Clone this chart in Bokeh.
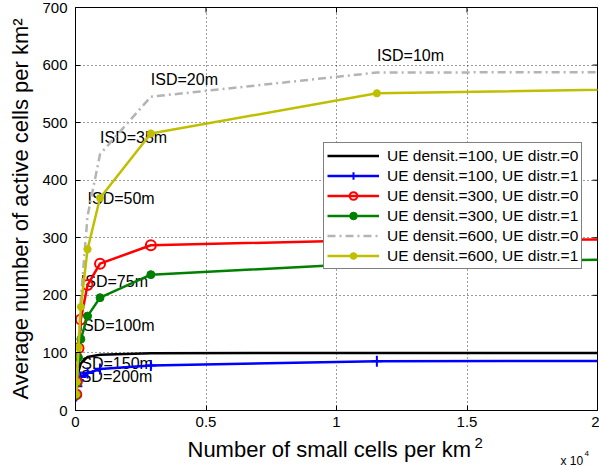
import math

from bokeh.plotting import figure
from bokeh.layouts import column
from bokeh.models import FixedTicker, Range1d
from bokeh.embed import file_html
from bokeh.resources import INLINE
from bokeh.core.properties import value

# Small-cell densities (cells per km^2) for each inter-site distance
density = [29, 51, 115, 205, 462, 940, 2887, 11547, 46188]
isd_labels = ["ISD=200m", "ISD=150m", "ISD=100m", "ISD=75m", "ISD=50m",
              "ISD=35m", "ISD=20m", "ISD=10m"]

# Average number of active cells per km^2
ue100_d0 = [27, 43, 68, 82, 93, 97, 99.5, 100, 100]
ue100_d1 = [25, 42, 52, 58, 65, 72, 78, 85.5, 88]
ue300_d0 = [28, 50, 108, 158, 218, 255, 287, 296, 299.5]
ue300_d1 = [27, 48, 92, 124, 164, 196, 236, 256, 280]
ue600_d0 = [29, 52, 117, 194, 338, 445, 545, 587, 590]
ue600_d1 = [28, 50, 110, 180, 280, 369, 481, 551, 576]

x_ticks = [0, 5000, 10000, 15000, 20000]
x_tick_labels = ["0", "0.5", "1", "1.5", "2"]
y_ticks = [0, 100, 200, 300, 400, 500, 600, 700]

X_MAX, Y_MAX = 20000, 700
FONT = "Liberation Sans"
W = 599
MAIN_H, FOOT_H = 434, 33
LEFT, RIGHT = 75, 2

p = figure(width=W, height=MAIN_H, output_backend="svg", toolbar_location=None,
           x_range=Range1d(0, X_MAX), y_range=Range1d(0, Y_MAX),
           min_border_left=LEFT, min_border_right=RIGHT, min_border_top=7,
           min_border_bottom=24)
p.background_fill_color = "white"
p.border_fill_color = "white"
p.outline_line_color = "black"
p.outline_line_width = 1

# dotted grid
p.xgrid.ticker = FixedTicker(ticks=x_ticks)
p.ygrid.ticker = FixedTicker(ticks=y_ticks)
for g in (p.xgrid[0], p.ygrid[0]):
    g.grid_line_color = "#3a3a3a"
    g.grid_line_dash = "1 3"
    g.grid_line_width = 1

p.xaxis.ticker = FixedTicker(ticks=x_ticks)
p.xaxis.major_label_overrides = dict(zip(x_ticks, x_tick_labels))
p.yaxis.ticker = FixedTicker(ticks=y_ticks)

for ax in (p.xaxis[0], p.yaxis[0]):
    ax.major_tick_in = 5
    ax.major_tick_out = 0
    ax.minor_tick_in = 0
    ax.minor_tick_out = 0
    ax.axis_line_color = "black"
    ax.major_tick_line_color = "black"
    ax.major_label_text_font = FONT
    ax.major_label_text_font_size = "15px"
    ax.major_label_text_color = "black"
    ax.axis_label_text_font = FONT
    ax.axis_label_text_font_size = "22px"
    ax.axis_label_text_font_style = "normal"
    ax.axis_label_text_color = "black"

p.yaxis.axis_label = "Average number of active cells per km\u00b2"
p.xaxis.major_label_standoff = 6
p.yaxis.major_label_standoff = 8
p.yaxis.axis_label_standoff = 6

# inward tick marks along the top and right edges of the box
p.scatter(x_ticks, [Y_MAX] * len(x_ticks), marker="dash", size=10,
          angle=math.pi / 2, line_color="black", line_width=1)
p.scatter([X_MAX] * len(y_ticks), y_ticks, marker="dash", size=10,
          line_color="black", line_width=1)

# ISD annotations sit just above the UE density 600 (uniform) curve
n_lab = len(isd_labels)
p.text(x=density[:n_lab], y=[v + 30 for v in ue600_d0[:n_lab]], text=isd_labels,
       text_font=value(FONT), text_font_size="16px", text_align="left",
       text_baseline="middle", text_color="black")

LW = 2.5
series = [
    ("UE densit.=100, UE distr.=0", ue100_d0, "black", None),
    ("UE densit.=100, UE distr.=1", ue100_d1, "#0000ff", "cross"),
    ("UE densit.=300, UE distr.=0", ue300_d0, "#ff0000", "circle"),
    ("UE densit.=300, UE distr.=1", ue300_d1, "#008000", "dot"),
    ("UE densit.=600, UE distr.=0", ue600_d0, "#b4b4b4", None),
    ("UE densit.=600, UE distr.=1", ue600_d1, "#bfbf00", "x"),
]

for name, ys, color, marker in series:
    dash = "8 4 2 4" if color == "#b4b4b4" else "solid"
    p.line(density, ys, line_color=color, line_width=LW, line_dash=dash,
           legend_label=name)
    if marker == "cross":
        p.scatter(density, ys, marker="cross", size=11, line_color=color,
                  line_width=2, legend_label=name)
    elif marker == "circle":
        p.scatter(density, ys, marker="circle", size=10, line_color=color,
                  fill_color=None, line_width=2, legend_label=name)
    elif marker == "dot":
        p.scatter(density, ys, marker="circle", size=8, line_color=color,
                  fill_color=color, line_width=1, legend_label=name)
    elif marker == "x":
        p.scatter(density, ys, marker="asterisk", size=8, line_color=color,
                  line_width=2.5, legend_label=name)

leg = p.legend[0]
leg.location = (248, 141)
leg.label_text_font = FONT
leg.label_text_font_size = "15.5px"
leg.label_text_color = "black"
leg.glyph_width = 52
leg.glyph_height = 19
leg.label_height = 19
leg.spacing = 1
leg.padding = 3
leg.margin = 0
leg.label_standoff = 8
leg.border_line_color = "black"
leg.border_line_width = 1
leg.background_fill_color = "white"
leg.background_fill_alpha = 1

# footer strip in pixel coordinates (frame aligned with the plot frame above)
# holding the x-axis title and the x 10^4 factor
foot = figure(width=W, height=FOOT_H, output_backend="svg", toolbar_location=None,
              x_range=Range1d(LEFT, W - RIGHT), y_range=Range1d(0, FOOT_H),
              x_axis_type=None, y_axis_type=None,
              min_border_left=LEFT, min_border_right=RIGHT,
              min_border_top=0, min_border_bottom=0)
foot.outline_line_color = None
foot.background_fill_color = "white"
foot.border_fill_color = "white"

foot.text(x=[187], y=[18], text=["Number of small cells per km"],
          text_font=value(FONT), text_font_size="22px", text_align="left",
          text_baseline="middle", text_color="black")
foot.text(x=[474], y=[25], text=["2"],
          text_font=value(FONT), text_font_size="15px", text_align="left",
          text_baseline="middle", text_color="black")
foot.text(x=[560], y=[7], text=["x 10"],
          text_font=value(FONT), text_font_size="12px", text_align="left",
          text_baseline="middle", text_color="black")
foot.text(x=[584], y=[14], text=["4"],
          text_font=value(FONT), text_font_size="8px", text_align="left",
          text_baseline="middle", text_color="black")

open("out.html", "w").write(file_html(column(p, foot, spacing=0), INLINE))
